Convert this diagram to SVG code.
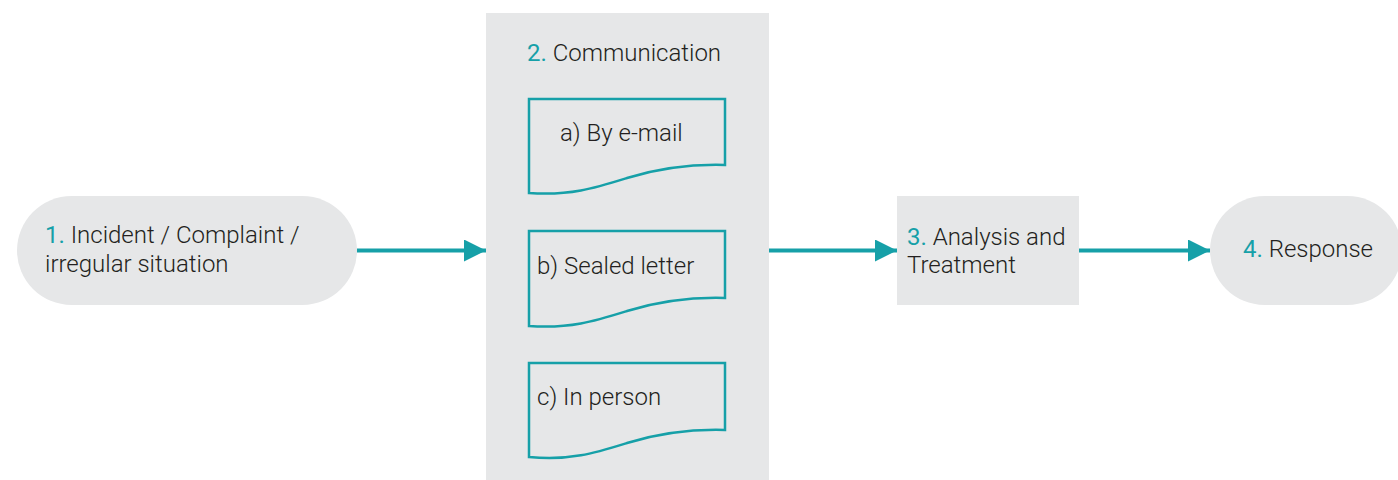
<svg xmlns="http://www.w3.org/2000/svg" width="1398" height="480" viewBox="0 0 1398 480">
<defs>
<style>
.bg{fill:#e6e7e8}
.doc{fill:none;stroke:#16a0a8;stroke-width:2.5}
.t{font-family:Roboto,"Liberation Sans",sans-serif;font-weight:300;font-size:24px;fill:#231f20}
.n{fill:#16a0a8;font-weight:400}
.ln{stroke:#16a0a8;stroke-width:4;fill:none}
</style>
<marker id="ah" viewBox="0 0 10 10" refX="10" refY="5" markerWidth="6" markerHeight="5.5" markerUnits="strokeWidth" orient="auto"><path d="M0,0 L10,5 L0,10 Z" fill="#16a0a8"/></marker>
</defs>
<rect width="1398" height="480" fill="#fff"/>
<g id="node1">
<rect class="bg" x="17" y="196" width="340" height="109" rx="54.5"/>
<text class="t" x="45" y="243"><tspan class="n">1.</tspan> Incident / Complaint /</text>
<text class="t" x="45" y="272">irregular situation</text>
</g>
<g id="node2">
<rect class="bg" x="486" y="13" width="283" height="467"/>
<text class="t" x="527" y="61"><tspan class="n">2.</tspan> Communication</text>
</g>
<g id="doc-a">
<path class="doc" d="M529,99 H725 V165 C690,164 660,168 627,178 C595,188 570,196 529,193 Z"/>
<text class="t" x="560" y="141">a) By e-mail</text>
</g>
<g id="doc-b">
<path class="doc" d="M529,231 H725 V298 C690,297 660,301 627,311 C595,321 570,329 529,326 Z"/>
<text class="t" x="537" y="274">b) Sealed letter</text>
</g>
<g id="doc-c">
<path class="doc" d="M529,363 H725 V430 C690,429 660,433 627,443 C595,453 570,461 529,457 Z"/>
<text class="t" x="537" y="405">c) In person</text>
</g>
<g id="node3">
<rect class="bg" x="897" y="196" width="182" height="109"/>
<text class="t" x="907" y="245"><tspan class="n">3.</tspan> Analysis and</text>
<text class="t" x="907" y="273">Treatment</text>
</g>
<g id="node4">
<rect class="bg" x="1210" y="196" width="192" height="109" rx="54.5"/>
<text class="t" x="1243" y="257"><tspan class="n">4.</tspan> Response</text>
</g>
<g id="connectors">
<line class="ln" x1="357" y1="250.5" x2="486" y2="250.5" marker-end="url(#ah)"/>
<line class="ln" x1="769" y1="250.5" x2="897" y2="250.5" marker-end="url(#ah)"/>
<line class="ln" x1="1079" y1="250.5" x2="1210" y2="250.5" marker-end="url(#ah)"/>
</g>
</svg>
